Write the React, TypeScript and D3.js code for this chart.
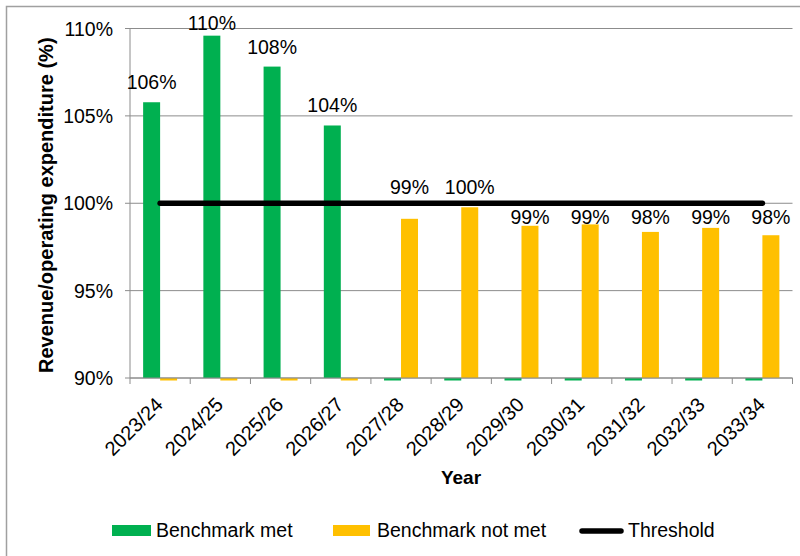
import React from "react";
import * as d3 from "d3";

// Revenue as a share of operating expenditure, by financial year
const years = [
  "2023/24", "2024/25", "2025/26", "2026/27", "2027/28", "2028/29",
  "2029/30", "2030/31", "2031/32", "2032/33", "2033/34",
];
const benchmarkMet = [105.78, 109.59, 107.82, 104.45, 0, 0, 0, 0, 0, 0, 0];
const benchmarkNotMet = [0, 0, 0, 0, 99.11, 99.77, 98.71, 98.79, 98.36, 98.59, 98.17];
const threshold = [100, 100, 100, 100, 100, 100, 100, 100, 100, 100, 100];
const yTicks = [90, 95, 100, 105, 110];

const W = 800;
const H = 556;
const plot = { left: 130, right: 792.5, top: 28.5, bottom: 378 };

const GREEN = "#00B050";
const YELLOW = "#FFC000";
const GRID = "#8c8c8c";
const FONT = "'Liberation Sans', Arial, sans-serif";

export default function App() {
  const x = d3.scaleBand<string>().domain(years).range([plot.left, plot.right]).paddingInner(0).paddingOuter(0);
  const series = ["met", "notMet"];
  const xs = d3.scaleBand<string>().domain(series).range([0, x.bandwidth()]).paddingInner(0).paddingOuter(0.773);
  const y = d3.scaleLinear().domain([90, 110]).range([plot.bottom, plot.top]);

  const fmt = (v: number) => `${Math.round(v)}%`;

  const bar = (v: number, key: string, i: number, color: string) => {
    const bx = (x(years[i]) as number) + (xs(key) as number);
    if (v < 90) {
      // value below the axis minimum: only a short stub under the axis
      return <rect key={`${key}-${i}`} x={bx} y={y(90)} width={xs.bandwidth()} height={2.5} fill={color} />;
    }
    return (
      <rect key={`${key}-${i}`} x={bx} y={y(v)} width={xs.bandwidth()} height={y(90) - y(v)} fill={color} />
    );
  };

  const line = d3
    .line<number>()
    .x((_, i) => (x(years[i]) as number) + x.bandwidth() / 2)
    .y((d) => y(d));

  const labelMet = (v: number, i: number) => {
    if (v < 90) return null;
    const cx = (x(years[i]) as number) + (xs("met") as number) + xs.bandwidth() / 2;
    const by = Math.max(y(v) - 13, plot.top + 1);
    return (
      <text key={`lm-${i}`} x={cx} y={by} textAnchor="middle" fontSize={19.5} fill="#000">
        {fmt(v)}
      </text>
    );
  };

  const labelNotMet = (v: number, i: number) => {
    if (v < 90) return null;
    const cx = (x(years[i]) as number) + (xs("notMet") as number) + xs.bandwidth() / 2;
    const by = v > 99 ? y(100) - 9 : y(100) + 21;
    return (
      <text key={`ln-${i}`} x={cx} y={by} textAnchor="middle" fontSize={19.5} fill="#000">
        {fmt(v)}
      </text>
    );
  };

  const boundaries = [...years.map((yr) => x(yr) as number), plot.right];

  return (
    <svg
      width={W}
      height={H}
      viewBox={`0 0 ${W} ${H}`}
      style={{ position: "fixed", left: 0, top: 0, background: "#fff" }}
      fontFamily={FONT}
    >
      <rect x={0} y={0} width={W} height={H} fill="#fff" />
      {/* outer chart border */}
      <rect x={6.5} y={6.5} width={W} height={H} fill="none" stroke="#a0a0a0" strokeWidth={1.5} />

      {/* horizontal gridlines */}
      {yTicks.map((t) => (
        <line key={`g${t}`} x1={plot.left - 5} x2={plot.right} y1={y(t)} y2={y(t)} stroke={GRID} strokeWidth={1} />
      ))}

      {/* y axis */}
      <line x1={plot.left} x2={plot.left} y1={plot.top} y2={plot.bottom} stroke={GRID} strokeWidth={1} />
      {yTicks.map((t) => (
        <text key={`t${t}`} x={plot.left - 17} y={y(t) + 7} textAnchor="end" fontSize={19.5} fill="#000">
          {`${t}%`}
        </text>
      ))}

      {/* x axis ticks at category boundaries */}
      {boundaries.map((bx, i) => (
        <line key={`xt${i}`} x1={bx} x2={bx} y1={plot.bottom} y2={plot.bottom + 6} stroke={GRID} strokeWidth={1} />
      ))}

      {/* bars */}
      {benchmarkMet.map((v, i) => bar(v, "met", i, GREEN))}
      {benchmarkNotMet.map((v, i) => bar(v, "notMet", i, YELLOW))}

      <line x1={plot.left} x2={plot.right} y1={plot.bottom} y2={plot.bottom} stroke={GRID} strokeWidth={1} />

      {/* threshold line */}
      <path d={line(threshold) ?? ""} fill="none" stroke="#000" strokeWidth={5.5} strokeLinecap="round" />

      {/* value labels */}
      {benchmarkMet.map((v, i) => labelMet(v, i))}
      {benchmarkNotMet.map((v, i) => labelNotMet(v, i))}

      {/* category labels */}
      {years.map((yr) => {
        const cx = (x(yr) as number) + x.bandwidth() / 2 + 4;
        return (
          <text
            key={`c${yr}`}
            transform={`translate(${cx},${plot.bottom + 28}) rotate(-45)`}
            textAnchor="end"
            fontSize={20}
            fill="#000"
          >
            {yr}
          </text>
        );
      })}

      {/* axis titles */}
      <text x={461} y={484} textAnchor="middle" fontSize={19} fontWeight="bold" fill="#000">
        Year
      </text>
      <text
        transform={`translate(53,${(plot.top + plot.bottom) / 2 + 2}) rotate(-90)`}
        textAnchor="middle"
        fontSize={20}
        fontWeight="bold"
        fill="#000"
      >
        Revenue/operating expenditure (%)
      </text>

      {/* legend */}
      <rect x={112} y={525} width={39} height={11} fill={GREEN} />
      <text x={156} y={537} fontSize={19.5} fill="#000">Benchmark met</text>
      <rect x={333} y={525} width={37} height={11} fill={YELLOW} />
      <text x={377} y={537} fontSize={19.5} fill="#000">Benchmark not met</text>
      <line x1={582} x2={621} y1={531} y2={531} stroke="#000" strokeWidth={5.5} strokeLinecap="round" />
      <text x={628} y={537} fontSize={19.5} fill="#000">Threshold</text>
    </svg>
  );
}
